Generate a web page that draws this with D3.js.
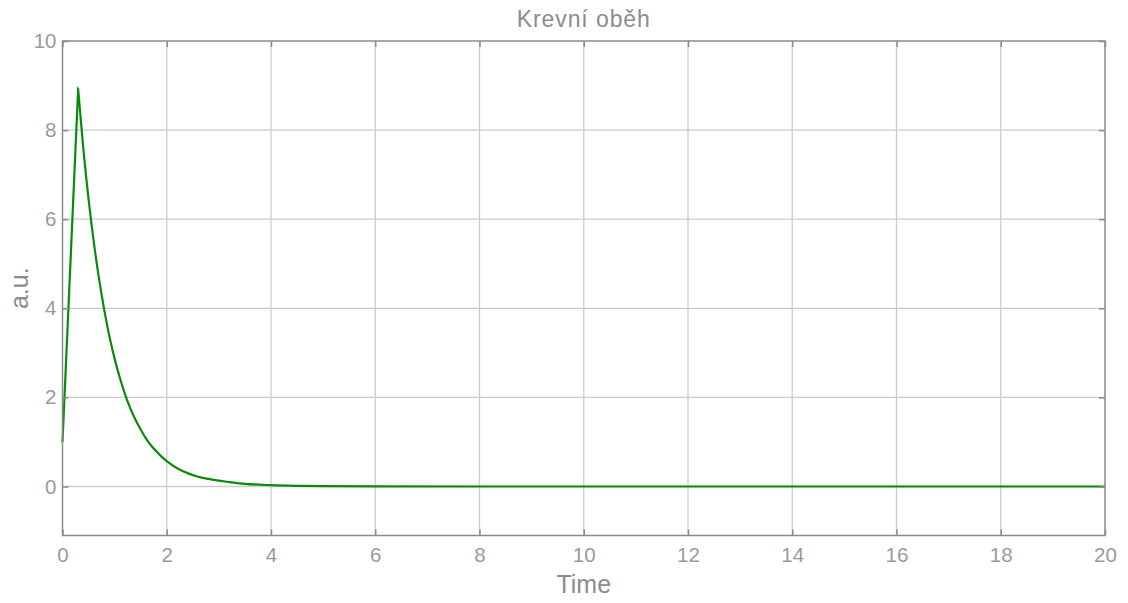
<!DOCTYPE html>
<html><head><meta charset="utf-8">
<script src="https://cdn.jsdelivr.net/npm/d3@7"></script>
<style>body{margin:0;background:#fff}svg{display:block;font-family:"Liberation Sans",Arial,sans-serif}</style>
</head><body><svg id="c" width="1128" height="603"></svg>
<script>
const title = "Krevní oběh";
const xLabel = "Time";
const yLabel = "a.u.";
const xTicks = [0,2,4,6,8,10,12,14,16,18,20];
const yTicks = [0,2,4,6,8,10];
const xDomain = [0,20];
const yDomain = [-1.1,10];
// injection phase (linear rise)
const riseTime = [0,0.3];
const riseValues = [1.0,8.92];
// clearance phase
const decayTime = [0.3,0.4,0.5,0.6,0.7,0.8,0.9,1.0,1.1,1.2,1.3,1.4,1.5,1.6,1.7,1.8,1.9,2.0,2.2,2.4,2.6,2.8,3.0,3.2,3.5,4.0,4.5,5.0,6.0,8.0,20.0];
const decayValues = [8.92,7.58,6.45,5.49,4.67,3.97,3.37,2.87,2.44,2.07,1.76,1.50,1.28,1.08,0.92,0.79,0.67,0.57,0.41,0.30,0.22,0.17,0.13,0.10,0.06,0.03,0.015,0.007,0.002,0,0];

const svg = d3.select("#c");
const m = {l:62.5,r:1105,t:41,b:535.5};
const x = d3.scaleLinear().domain(xDomain).range([m.l,m.r]);
const y = d3.scaleLinear().domain(yDomain).range([m.b,m.t]);
const gridC = "#cccccc", axC = "#8a8a8a", txtC = "#9a9a9a";

// grid
svg.append("g").selectAll("line").data(xTicks.slice(1,-1)).join("line")
  .attr("x1",d=>x(d)).attr("x2",d=>x(d)).attr("y1",m.t).attr("y2",m.b)
  .attr("stroke",gridC).attr("stroke-width",1.3);
svg.append("g").selectAll("line").data(yTicks.slice(0,-1)).join("line")
  .attr("y1",d=>y(d)).attr("y2",d=>y(d)).attr("x1",m.l).attr("x2",m.r)
  .attr("stroke",gridC).attr("stroke-width",1.3);

// curve
const riseLine = d3.line().x((d,i)=>x(riseTime[i])).y(d=>y(d)).curve(d3.curveLinear);
const decayLine = d3.line().x((d,i)=>x(decayTime[i])).y(d=>y(d)).curve(d3.curveMonotoneX);
const pathD = riseLine(riseValues) + decayLine(decayValues).replace(/^M[^LC]*/, "L" + x(decayTime[0]) + "," + y(decayValues[0]));
svg.append("path").attr("d",pathD)
  .attr("fill","none").attr("stroke","#0a8a0a").attr("stroke-width",2.2).attr("stroke-linejoin","miter").attr("stroke-miterlimit",10);

// box
svg.append("rect").attr("x",m.l).attr("y",m.t).attr("width",m.r-m.l).attr("height",m.b-m.t)
  .attr("fill","none").attr("stroke",axC).attr("stroke-width",1.5);

// axes with inward ticks
const xa = d3.axisBottom(x).tickValues(xTicks).tickSizeInner(-6).tickSizeOuter(0).tickPadding(12);
svg.append("g").attr("transform",`translate(0,${m.b})`).call(xa);
const ya = d3.axisLeft(y).tickValues(yTicks).tickSizeInner(-6).tickSizeOuter(0).tickPadding(6);
svg.append("g").attr("transform",`translate(${m.l},0)`).call(ya);
const xt = d3.axisTop(x).tickValues(xTicks).tickSizeInner(-6).tickSizeOuter(0).tickFormat("");
svg.append("g").attr("transform",`translate(0,${m.t})`).call(xt);
const yr = d3.axisRight(y).tickValues(yTicks).tickSizeInner(-6).tickSizeOuter(0).tickFormat("");
svg.append("g").attr("transform",`translate(${m.r},0)`).call(yr);
svg.selectAll(".domain").remove();
svg.selectAll(".tick line").attr("stroke",axC).attr("stroke-width",1.5);
svg.selectAll(".tick text").attr("fill",txtC).attr("font-size",20.5).attr("font-family","Liberation Sans, Arial, sans-serif");

// labels
svg.append("text").attr("x",(m.l+m.r)/2).attr("y",27).attr("text-anchor","middle")
  .attr("fill","#8c8c8c").attr("font-size",23).attr("letter-spacing",0.9).text(title);
svg.append("text").attr("x",(m.l+m.r)/2).attr("y",593).attr("text-anchor","middle")
  .attr("fill","#8c8c8c").attr("font-size",25).text(xLabel);
svg.append("text").attr("transform",`translate(28,${(m.t+m.b)/2}) rotate(-90)`).attr("text-anchor","middle")
  .attr("fill","#8c8c8c").attr("font-size",25).text(yLabel);
</script></body></html>
